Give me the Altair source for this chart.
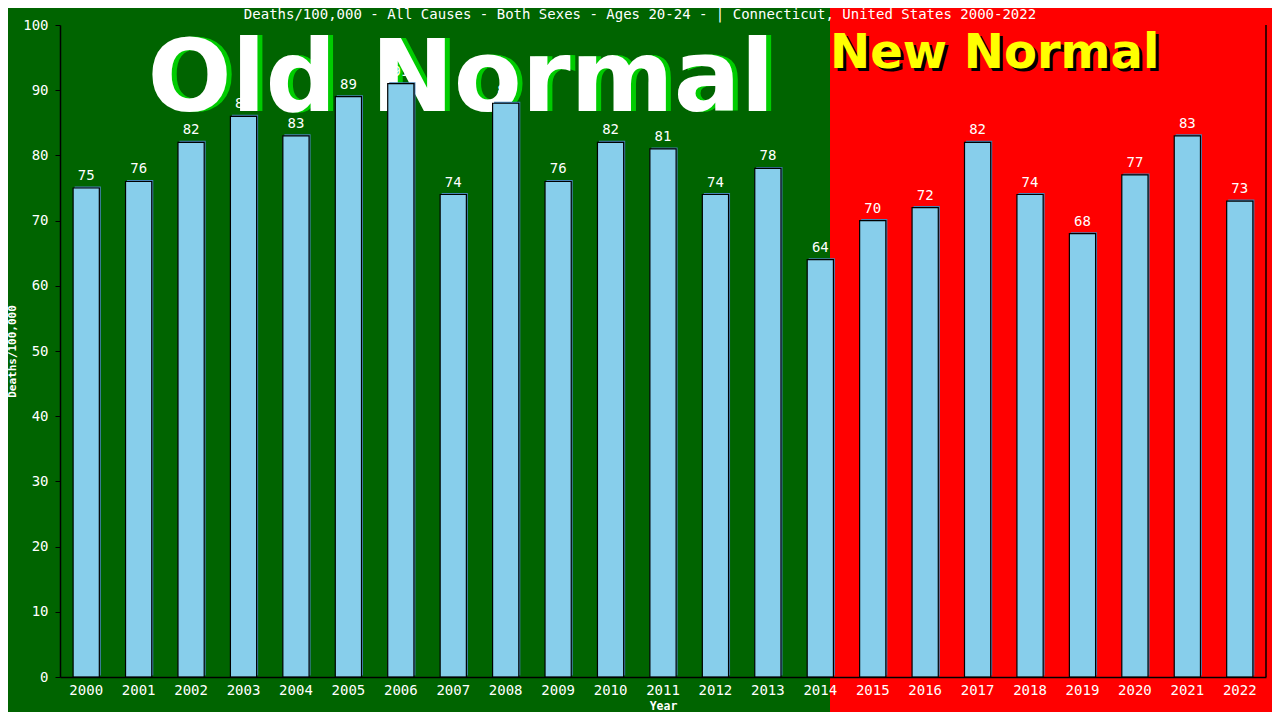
import altair as alt
import pandas as pd

years = [str(y) for y in range(2000, 2023)]
values = [75, 76, 82, 86, 83, 89, 91, 74, 88, 76, 82, 81, 74, 78, 64,
          70, 72, 82, 74, 68, 77, 83, 73]
title_text = "Deaths/100,000 - All Causes - Both Sexes - Ages 20-24 -  | Connecticut, United States 2000-2022"
split_year = ["2014"]

df = pd.DataFrame({"year": years, "value": values})
split_df = pd.DataFrame({"year": split_year})

MONO = "DejaVu Sans Mono"
SANS = "DejaVu Sans"

x_scale = alt.Scale(domain=years, paddingInner=0.5, paddingOuter=0.25)
y_scale = alt.Scale(domain=[0, 100], nice=False)

x_axis = alt.Axis(title="Year", labelAngle=0, labelAlign="center",
                  labelBaseline="top", bandPosition=0.5, ticks=False,
                  domainColor="black", domainWidth=1.5, labelColor="white",
                  labelFont=MONO, labelFontSize=14, labelPadding=6,
                  titleColor="white", titleFont=MONO, titleFontSize=11.5,
                  titleFontWeight="bold", titlePadding=3, grid=False)
x_enc = alt.X("year:O", scale=x_scale, axis=x_axis)
y_enc = alt.Y(
    "value:Q", scale=y_scale,
    axis=alt.Axis(title="Deaths/100,000", values=list(range(0, 101, 10)),
                  tickSize=5, tickColor="black", domainColor="black",
                  domainWidth=1.5, labelColor="white", labelFont=MONO,
                  labelFontSize=14, labelPadding=7, titleColor="white",
                  titleFont=MONO, titleFontSize=11, titleFontWeight="bold",
                  titlePadding=5, grid=False),
)
x_split = alt.X("year:O", scale=x_scale, bandPosition=0.87, axis=x_axis)

red_bg = alt.Chart(split_df).mark_rect(color="#ff0000", clip=False).encode(
    x=x_split,
    x2=alt.value(1240),
    y=alt.value(-40),
    y2=alt.value(720),
)

title_mark = alt.Chart(split_df).mark_text(
    text=title_text, font=MONO, fontSize=14, color="white",
    align="center", baseline="alphabetic",
).encode(x=alt.value(580), y=alt.value(-6))

old_shadow = alt.Chart(split_df).mark_text(
    text="Old Normal", font=SANS, fontSize=99, fontWeight="bold",
    color="#00cc00", align="center", baseline="alphabetic",
).encode(x=alt.value(406), y=alt.value(86))
old_text = alt.Chart(split_df).mark_text(
    text="Old Normal", font=SANS, fontSize=99, fontWeight="bold",
    color="white", align="center", baseline="alphabetic",
).encode(x=alt.value(401), y=alt.value(86))

new_shadow = alt.Chart(split_df).mark_text(
    text="New Normal", font=SANS, fontSize=48, fontWeight="bold",
    color="black", align="left", baseline="alphabetic", dx=3, dy=3,
).encode(x=x_split, y=alt.value(43))
new_text = alt.Chart(split_df).mark_text(
    text="New Normal", font=SANS, fontSize=48, fontWeight="bold",
    color="#ffff00", align="left", baseline="alphabetic",
).encode(x=x_split, y=alt.value(43))

base = alt.Chart(df)
bar_shadow = base.mark_bar(color="#4682b4", xOffset=1.5, yOffset=-1.5).encode(
    x=x_enc, y=y_enc)
bars = base.mark_bar(color="#87ceeb", stroke="black", strokeWidth=1.2).encode(
    x=x_enc, y=y_enc)
labels = base.mark_text(
    font=MONO, fontSize=14, color="white", baseline="alphabetic", dy=-8,
).encode(x=x_enc, y=y_enc, text=alt.Text("value:Q"))

border = alt.Chart(split_df).mark_rule(color="black", strokeWidth=1.5).encode(
    x=alt.value("width"), y=alt.value(0), y2=alt.value("height"))

chart = alt.layer(
    red_bg, title_mark, old_shadow, old_text, new_shadow, new_text,
    bar_shadow, bars, labels, border,
).properties(
    width=1206, height=652,
    autosize=alt.AutoSizeParams(type="none"),
    padding={"left": 52, "top": 17, "right": 6, "bottom": 35},
).configure(background="#006400").configure_view(stroke=None)

chart.save("out.html", embed_options={"renderer": "svg", "actions": False})
